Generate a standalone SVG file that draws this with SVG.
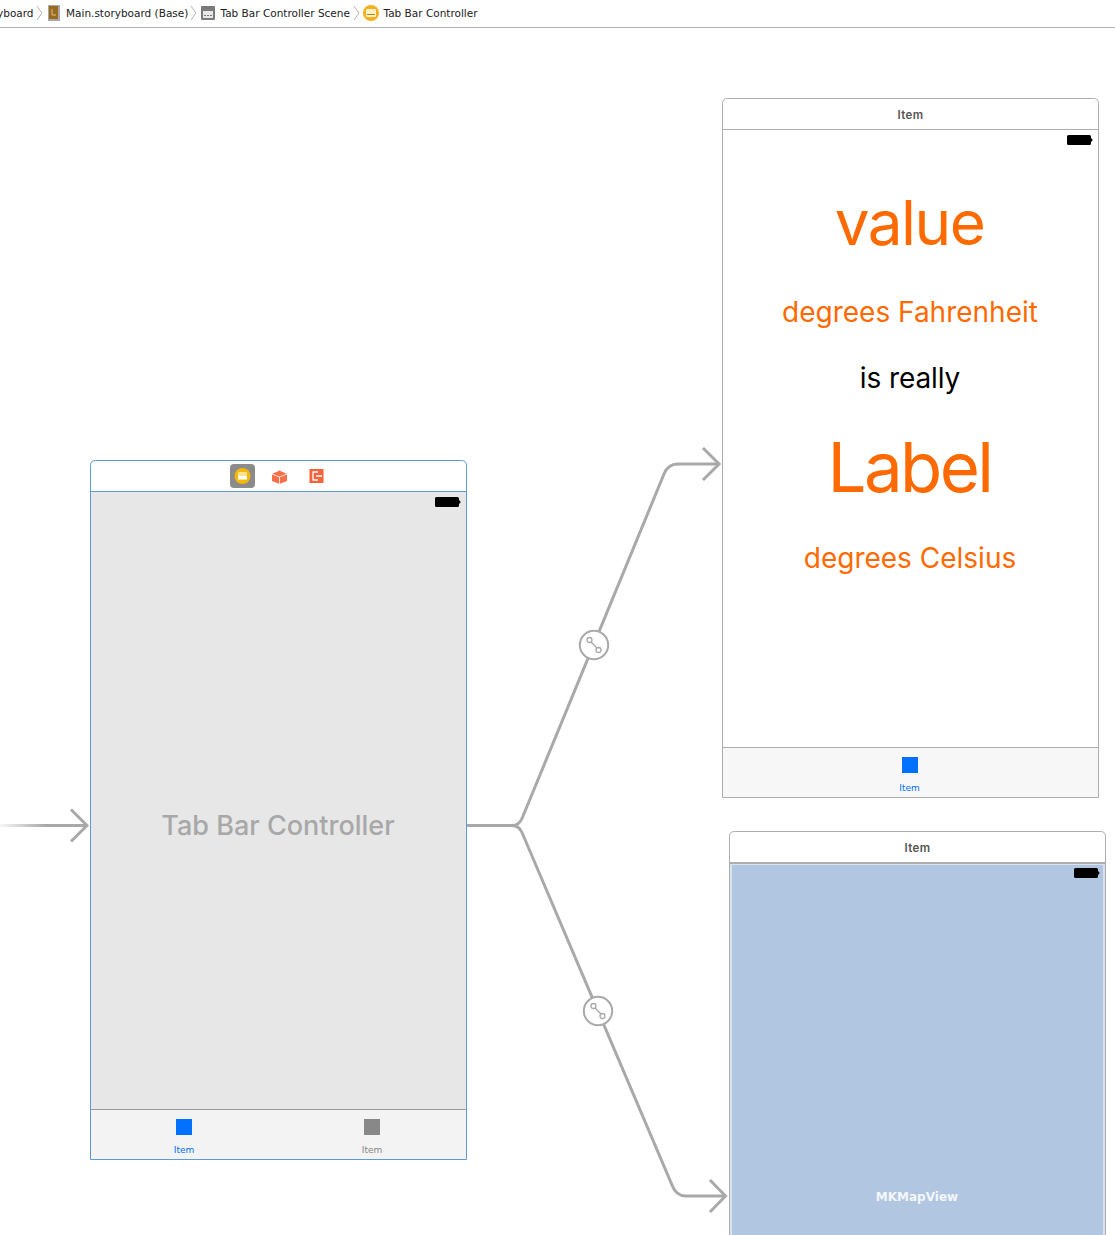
<svg xmlns="http://www.w3.org/2000/svg" width="1115" height="1235" viewBox="0 0 1115 1235">
<style>
text{font-family:"Inter","Liberation Sans",sans-serif}
.crumb{font-family:"DejaVu Sans",sans-serif;font-size:10.5px;fill:#222}
.chev{fill:none;stroke:#b4b4b4;stroke-width:1}
.frame{fill:#fff;stroke:#adadad;stroke-width:1}
.head{font-size:11.5px;font-weight:600;fill:#555;text-anchor:middle;letter-spacing:.35px}
.tab{font-family:"DejaVu Sans",sans-serif;font-size:9px;text-anchor:middle}
.orange{fill:#ff6a00;text-anchor:middle}
.conn{fill:none;stroke:#a9a9a9;stroke-width:3}
.arrow{fill:none;stroke:#a9a9a9;stroke-width:3}
.badge{fill:#fff;stroke:#a9a9a9;stroke-width:2}
.glyph{fill:none;stroke:#a9a9a9;stroke-width:1.3}
</style>
<defs>
<linearGradient id="fade" gradientUnits="userSpaceOnUse" x1="0" y1="0" x2="45" y2="0"><stop offset="0" stop-color="#a9a9a9" stop-opacity="0.1"/><stop offset="1" stop-color="#a9a9a9"/></linearGradient>
<path id="batt" d="M0 1.500Q0 0 1.500 0H22.500Q24 0 24 1.500V3L25.500 4.500V5.500L24 7V8.500Q24 10 22.500 10H1.500Q0 10 0 8.500Z" fill="#000"/>
</defs>
<rect width="1115" height="1235" fill="#fff"/>

<g id="breadcrumb">
<rect x="0" y="27" width="1115" height="1" fill="#b3b3b3"/>
<text class="crumb" x="-3" y="17">yboard</text>
<path class="chev" d="M37 6L42 13L37 20"/>
<rect x="48" y="5" width="12" height="16" fill="#a9a9a9"/><rect x="49" y="6" width="9" height="13" fill="#9a6a1e"/><path d="M52 9V15H56" fill="none" stroke="#d8c08c"/>
<text class="crumb" x="66" y="17">Main.storyboard (Base)</text>
<path class="chev" d="M191 6L196 13L191 20"/>
<rect x="201" y="6" width="14" height="14" rx="1" fill="#7a7a7a"/><rect x="203" y="11" width="10" height="7" fill="#e8e8e8"/><path d="M204 15.500h8" stroke="#777" stroke-dasharray="2 1"/>
<text class="crumb" x="220.500" y="17">Tab Bar Controller Scene</text>
<path class="chev" d="M354 6L359 13L354 20"/>
<circle cx="371" cy="13" r="8" fill="#f3b01c"/><rect x="366" y="9" width="10" height="8" rx="1" fill="#fff2c8"/><rect x="367" y="14" width="8" height="1" fill="#b88a10"/>
<text class="crumb" x="383.500" y="17">Tab Bar Controller</text>
</g>

<g id="connectors">
<path d="M0 825.500H45" fill="none" stroke="url(#fade)" stroke-width="3"/>
<path class="conn" d="M45 825.500H86"/>
<path class="arrow" d="M71 809.500L87 825.500L71 841.500"/>
<path class="conn" d="M467 825.500H512Q519 825.500 522 818.500L664 474Q668 464 678 464H718"/>
<path class="arrow" d="M703 448L719 464L703 480"/>
<path class="conn" d="M512 825.500Q519 825.500 522 832.500L672 1185Q676 1196 686 1196H724"/>
<path class="arrow" d="M710 1180L725.500 1196L710 1212"/>
<g id="segue-1"><circle class="badge" cx="594" cy="645" r="14.200"/><path class="glyph" d="M590.800 641.800L597.200 648.200"/><circle class="glyph" cx="589.500" cy="640" r="2.500" fill="#fff"/><circle class="glyph" cx="598.500" cy="650" r="2.500" fill="#fff"/></g>
<g id="segue-2"><circle class="badge" cx="598" cy="1011" r="14.200"/><path class="glyph" d="M594.800 1007.800L601.200 1014.200"/><circle class="glyph" cx="593.500" cy="1006" r="2.500" fill="#fff"/><circle class="glyph" cx="602.500" cy="1016" r="2.500" fill="#fff"/></g>
</g>

<g id="tab-bar-controller">
<path d="M90.500 1159.500V465.500Q90.500 460.500 95.500 460.500H461.500Q466.500 460.500 466.500 465.500V1159.500Z" fill="#fff"/>
<rect x="91" y="491" width="375" height="618" fill="#e7e7e7"/>
<rect x="91" y="1110" width="375" height="49" fill="#f3f3f3"/>
<rect x="91" y="1109" width="375" height="1" fill="#9a9a9a"/>
<path d="M90.500 491.500H466.500" stroke="#5b9bd8" fill="none"/>
<path d="M90.500 1159.500V465.500Q90.500 460.500 95.500 460.500H461.500Q466.500 460.500 466.500 465.500V1159.500Z" fill="none" stroke="#5b9bd8"/>
<rect x="230" y="464" width="25" height="24" rx="4" fill="#8b8b8b"/>
<circle cx="242.500" cy="476" r="8" fill="#f5b70f"/><rect x="238" y="472" width="9" height="8" rx="1" fill="#ffe48a"/><rect x="238" y="476" width="9" height="3" fill="#fff"/>
<path d="M272 474L279.500 470.500L287 474V481L279.500 484L272 481Z" fill="#fb6f4b"/><path d="M272 474L279.500 477L287 474M279.500 477V484" fill="none" stroke="#fff" stroke-width="0.800"/>
<rect x="309.500" y="469" width="14" height="14" fill="#f5623c"/><path d="M318 472H313V480H318M316 476H322" fill="none" stroke="#fff" stroke-width="1.300"/>
<use href="#batt" x="435" y="497"/>
<text x="278" y="835" font-size="27" font-weight="500" fill="#a8a8a8" text-anchor="middle">Tab Bar Controller</text>
<rect x="176" y="1119" width="16" height="16" fill="#0070ff"/>
<text class="tab" x="184" y="1153" fill="#0070ff">Item</text>
<rect x="364" y="1119" width="16" height="16" fill="#888"/>
<text class="tab" x="372" y="1153" fill="#888">Item</text>
</g>

<g id="item-converter">
<path class="frame" d="M722.500 797.500V103.500Q722.500 98.500 727.500 98.500H1093.500Q1098.500 98.500 1098.500 103.500V797.500Z"/>
<rect x="723" y="748" width="375" height="49" fill="#f7f7f7"/>
<path d="M722.500 129.500H1098.500M722.500 747.500H1098.500" fill="none" stroke="#adadad"/>
<text class="head" x="910.500" y="119">Item</text>
<use href="#batt" x="1067" y="135"/>
<text class="orange" x="909.500" y="245" font-size="62" letter-spacing="-1.500">value</text>
<text class="orange" x="910" y="322" font-size="28">degrees Fahrenheit</text>
<text x="910" y="388" font-size="28" letter-spacing="-.1" fill="#000" text-anchor="middle">is really</text>
<text class="orange" x="909.500" y="492" font-size="69" letter-spacing="-2.600">Label</text>
<text class="orange" x="910" y="568" font-size="28">degrees Celsius</text>
<rect x="902" y="757" width="16" height="16" fill="#0070ff"/>
<text class="tab" x="909.500" y="791" fill="#0070ff">Item</text>
</g>

<g id="item-map">
<path class="frame" d="M729.500 1236V836.500Q729.500 831.500 734.500 831.500H1100.500Q1105.500 831.500 1105.500 836.500V1236"/>
<rect x="730" y="862" width="375" height="373" fill="#d9e2ef"/>
<rect x="732" y="865" width="371" height="370" fill="#b1c6e0"/>
<rect x="730" y="862" width="375" height="2" fill="#adadad"/>
<text class="head" x="917.500" y="852">Item</text>
<use href="#batt" x="1074" y="868"/>
<text x="917" y="1201" font-size="12" font-weight="700" fill="#f4f7fb" text-anchor="middle" style="font-family:'DejaVu Sans',sans-serif">MKMapView</text>
</g>
</svg>
